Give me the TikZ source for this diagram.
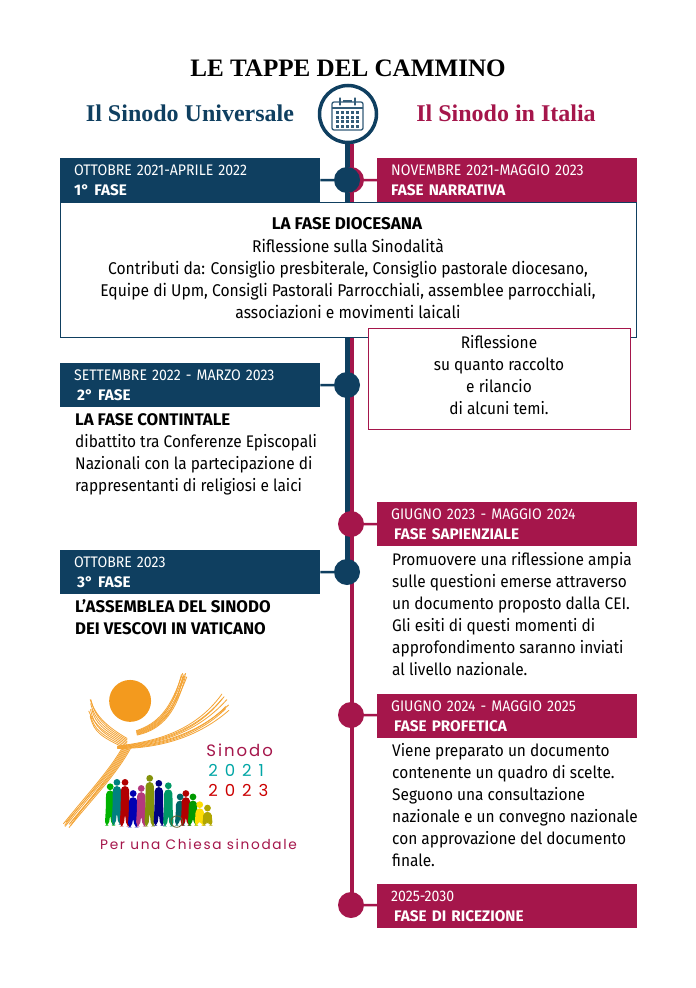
\documentclass[tikz,border=0pt]{standalone}
\usepackage{fontspec}
\usepackage{xcolor}
\usepackage{tikz}
\usetikzlibrary{arrows.meta,positioning,calc,backgrounds}
\setmainfont{Fira Sans}
\newfontfamily\barfont[FakeStretch=0.92,BoldFeatures={FakeStretch=1.0}]{Fira Sans}
\newfontfamily\titlefont{Liberation Serif}
\newfontfamily\handfont[LetterSpace=12]{Poppins}
\newfontfamily\numfont[LetterSpace=42]{Poppins}
\definecolor{navy}{HTML}{0F3F60}
\definecolor{wine}{HTML}{A5164B}
\definecolor{sunor}{HTML}{F39A1E}
\pgfmathsetseed{7}
\begin{document}
\begin{tikzpicture}[
  x=1pt, y=-1pt,
  band/.style={minimum width=260pt, minimum height=44pt, inner sep=0pt, text=white, align=left, anchor=north west, text width=232pt, font=\barfont\fontsize{15.3}{20}\selectfont},
  lband/.style={band, fill=navy},
  rband/.style={band, fill=wine},
  bluedot/.style={circle, fill=navy, minimum size=26pt, inner sep=0pt},
  reddot/.style={circle, fill=wine, minimum size=26pt, inner sep=0pt},
  body/.style={inner sep=0pt, anchor=north west, align=left, text=black, font=\barfont\fontsize{16.8}{22}\selectfont},
  ctr/.style={body, anchor=center, align=center},
  heading/.style={inner sep=0pt, font=\titlefont\bfseries\fontsize{24}{28}\selectfont},
  bluelink/.style={navy, line width=2.5pt},
  redlink/.style={wine, line width=2.5pt},
  ray/.style={sunor!90, line width=0.8pt, line cap=round},
  logotxt/.style={inner sep=0pt, font=\handfont\fontsize{16.5}{18}\selectfont}
]
  \useasboundingbox (0,0) rectangle (696,988);
  \fill[white] (0,0) rectangle (696,988);

  % headings
  \node[inner sep=0pt, font=\titlefont\bfseries\fontsize{25.1}{28}\selectfont] (title) at (348,68) {LE TAPPE DEL CAMMINO};
  \node[heading, text=navy] (univ) at (190,113) {Il Sinodo Universale};
  \node[heading, text=wine] (ita) at (506,113) {Il Sinodo in Italia};

  % timeline
  \node[circle, draw=navy, line width=3.5pt, fill=white, minimum size=57pt, inner sep=0pt] (cal) at (348,114) {};
  \coordinate (blueend) at (347.5,572);
  \coordinate (redend) at (352,905);
  \coordinate (bluetop) at (347.5,144);
  \coordinate (redtop) at (352,144);

  \node[rband] (narr) at (377,158) {NOVEMBRE 2021-MAGGIO 2023\\\textbf{FASE NARRATIVA}};
  \node[rband] (sap) at (377,502) {GIUGNO 2023 - MAGGIO 2024\\\hspace*{3pt}\textbf{FASE SAPIENZIALE}};
  \node[rband] (prof) at (377,694) {GIUGNO 2024 - MAGGIO 2025\\\hspace*{3pt}\textbf{FASE PROFETICA}};
  \node[rband] (ric) at (377,884) {2025-2030\\\hspace*{3pt}\textbf{FASE DI RICEZIONE}};
  \node[lband] (f1) at (60,158) {OTTOBRE 2021-APRILE 2022\\\textbf{1° FASE}};
  \node[lband] (f2) at (60,363) {SETTEMBRE 2022 - MARZO 2023\\\hspace*{3pt}\textbf{2° FASE}};
  \node[lband] (f3) at (60,550) {OTTOBRE 2023\\\hspace*{3pt}\textbf{3° FASE}};

  \draw[redlink, line width=4.5pt] (redtop) -- (redend);
  \draw[bluelink, line width=5pt] (bluetop) -- (blueend);

  \node[reddot] (d1r) at (351,180) {};
  \node[bluedot] (d1) at (347,180) {};
  \node[bluedot] (d2) at (347,385) {};
  \node[reddot] (d3) at (351,524) {};
  \node[bluedot] (d4) at (347,572) {};
  \node[reddot] (d5) at (351,715) {};
  \node[reddot] (d6) at (351,905) {};

  \draw[bluelink] (f1) -- (d1);
  \draw[redlink] (d1r) -- (narr);
  \draw[bluelink] (f2) -- (d2);
  \draw[redlink] (d3) -- (sap);
  \draw[bluelink] (f3) -- (d4);
  \draw[redlink] (d5) -- (prof);
  \draw[redlink] (d6) -- (ric);

  % calendar icon
  \draw[navy!85, line width=1.3pt, rounded corners=2pt, fill=white] (332,102) rectangle (363,130);
  \draw[navy!85, line width=1.3pt] (332,108) -- (363,108);
  \draw[navy!85, line width=1.3pt, line cap=round] (340,98) -- (340,105);
  \draw[navy!85, line width=1.3pt, line cap=round] (355,98) -- (355,105);
  \draw[navy!85, line width=1.3pt] (343,101) -- (352,101);
  \foreach \row in {114,118.5,123,127.5} {
    \foreach \col in {336,341,...,358} {
      \fill[navy!85] (\col,\row) rectangle ++(3,-3);
    }
  }

  % text boxes
  \node[draw=navy, line width=1.4pt, fill=white, minimum width=576pt, minimum height=135pt, anchor=north west] (dioc) at (60,202) {};
  \node[ctr, font=\barfont\bfseries\fontsize{17}{22}\selectfont] (diocT) at (347,224) {LA FASE DIOCESANA};
  \node[ctr, font=\barfont\fontsize{17}{22}\selectfont] (diocB) at (348,279) {Riflessione sulla Sinodalità\\Contributi da: Consiglio presbiterale, Consiglio pastorale diocesano,\\Equipe di Upm, Consigli Pastorali Parrocchiali, assemblee parrocchiali,\\associazioni e movimenti laicali};

  \node[draw=wine, line width=1.2pt, fill=white, minimum width=262pt, minimum height=101pt, anchor=north west] (rifl) at (368,328) {};
  \node[ctr] (riflT) at (499,375) {Riflessione\\su quanto raccolto\\e rilancio\\di alcuni temi.};

  \node[body] (contT) at (75,413) {\textbf{LA FASE CONTINTALE}\\dibattito tra Conferenze Episcopali\\Nazionali con la partecipazione di\\rappresentanti di religiosi e laici};
  \node[body] (assT) at (75,599) {\textbf{L’ASSEMBLEA DEL SINODO}\\\textbf{DEI VESCOVI IN VATICANO}};
  \node[body] (sapT) at (392,552) {Promuovere una riflessione ampia\\sulle questioni emerse attraverso\\un documento proposto dalla CEI.\\Gli esiti di questi momenti di\\approfondimento saranno inviati\\al livello nazionale.};
  \node[body] (profT) at (392,743) {Viene preparato un documento\\contenente un quadro di scelte.\\Seguono una consultazione\\nazionale e un convegno nazionale\\con approvazione del documento\\finale.};

  % logo
  \begin{scope}[shift={(50,660)}, x=0.338pt, y=-0.338pt]
    \fill[sunor] (237,121) circle[radius=62];
    \foreach \t in {0,0.13,...,1.01} {
      \pgfmathsetmacro{\ja}{8*rand}
      \pgfmathsetmacro{\jb}{10*rand}
      \draw[ray] (120-5*\t+\ja,115+55*\t+\jb) .. controls (135-5*\t,165+55*\t) and (165-15*\t,195+35*\t) .. (228,232+35*\t);
      \draw[ray] (200,262-8*\t) .. controls (300,262-22*\t) and (425,240-25*\t) .. (527-22*\t+\jb,150-58*\t+\ja);
      \draw[ray] (238-28*\t,262) .. controls (195-25*\t,340-10*\t) and (130-25*\t,405-5*\t) .. (62-28*\t+\ja,488-6*\t+\jb);
      \draw[ray] (398-8*\t+\jb,50-15*\t+\ja) .. controls (375-20*\t,150-5*\t) and (335-15*\t,205-20*\t) .. (258-3*\t,222-14*\t);
    }
    \foreach \px/\py/\pc/\ph in {178/375/green!70!black/115, 198/362/teal/125, 222/362/red!70!black/130, 246/395/blue!70!black/100, 270/380/magenta!70!black/112, 295/350/olive!80!green/142, 322/365/blue!50!black/125, 350/372/teal!80!green/120, 385/405/teal!80!black/85, 402/395/red!70!black/95, 423/405/green!60!black/85, 443/428/yellow!80!orange/62, 466/438/olive!70!yellow/52} {
      \fill[\pc] (\px,\py) circle[radius=10];
      \fill[\pc, rounded corners=4pt] (\px-12,\py+11) -- (\px+12,\py+11) -- (\px+13,\py+\ph*0.6) -- (\px+16,\py+\ph) -- (\px+4,\py+\ph) -- (\px,\py+\ph*0.7) -- (\px-4,\py+\ph) -- (\px-16,\py+\ph) -- (\px-13,\py+\ph*0.6) -- cycle;
    }
    \draw[olive!60!black, line width=0.8pt] (375,478) circle[radius=17];
    \node[logotxt, text=wine, anchor=west] (lsin) at (462,268) {Sinodo};
    \node[logotxt, text=teal!70!cyan, anchor=west, font=\numfont\fontsize{16.5}{18}\selectfont] (lya) at (468,328) {2021};
    \node[logotxt, text=red!80!black, anchor=west, font=\numfont\fontsize{16.5}{18}\selectfont] (lyb) at (468,385) {2023};
    \node[logotxt, text=wine, anchor=west, font=\handfont\fontsize{13.7}{16}\selectfont] (lper) at (148,546) {Per una Chiesa sinodale};
  \end{scope}
\end{tikzpicture}
\end{document}
